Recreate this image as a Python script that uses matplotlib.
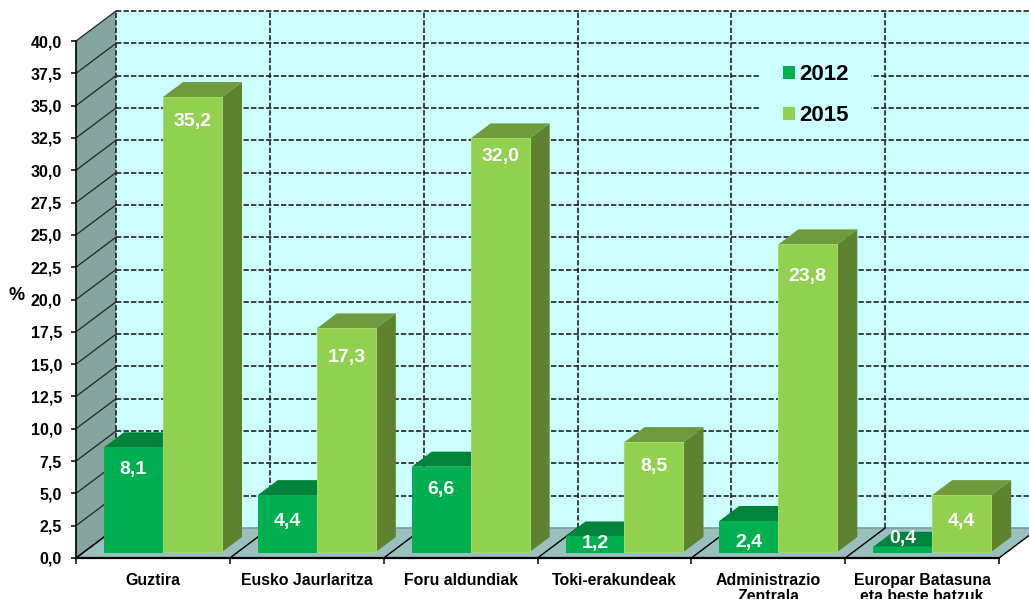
import matplotlib
matplotlib.use('Agg')
import matplotlib.pyplot as plt
from matplotlib.patches import Patch, Polygon, Rectangle

plt.rcParams['font.family'] = ['Liberation Sans', 'DejaVu Sans']
plt.rcParams['font.weight'] = 'bold'
plt.rcParams['axes.labelweight'] = 'bold'

categories = ['Guztira', 'Eusko Jaurlaritza', 'Foru aldundiak', 'Toki-erakundeak',
              'Administrazio\nZentrala', 'Europar Batasuna\neta beste batzuk']
values_2012 = [8.1, 4.4, 6.6, 1.2, 2.4, 0.4]
values_2015 = [35.2, 17.3, 32.0, 8.5, 23.8, 4.4]
labels_2012 = ['8,1', '4,4', '6,6', '1,2', '2,4', '0,4']
labels_2015 = ['35,2', '17,3', '32,0', '8,5', '23,8', '4,4']
y_ticks = [i * 2.5 for i in range(17)]
y_tick_labels = ['%.1f' % t for t in y_ticks]
y_tick_labels = [t.replace('.', ',') for t in y_tick_labels]

# how far below the bar top the value label sits, pixels
offset_2012 = [22, 26, 23, 7, 22, -8]
offset_2015 = [24, 29, 18, 24, 32, 26]

WIDTH, HEIGHT = 1029, 599
LEFT, RIGHT, TOP, BOTTOM = 76, 999, 41, 558

DARK_2012, TOP_2012, FRONT_2012 = '#006F35', '#00833B', '#00B050'
DARK_2015, TOP_2015, FRONT_2015 = '#5E8230', '#6F9B3C', '#92D050'

fig = plt.figure(figsize=(WIDTH / 100, HEIGHT / 100), dpi=100)
ax = fig.add_axes([LEFT / WIDTH, 1 - BOTTOM / HEIGHT, (RIGHT - LEFT) / WIDTH, (BOTTOM - TOP) / HEIGHT])
ax.set_xlim(0, 6)
ax.set_ylim(0, 40)
ax.patch.set_visible(False)

px_x = 6 / (RIGHT - LEFT)
px_y = 40 / (BOTTOM - TOP)
depth_x = 40 * px_x
depth_y = 30 * px_y


def at_depth(_x, _y, _d):
    """Moves a front plane point back into the chart, _d = 1 is the back wall"""

    return _x + _d * depth_x, _y + _d * depth_y


def add_poly(_points, _color, _z, _edge='none'):
    """Adds an unclipped filled polygon"""

    ax.add_patch(Polygon(_points, closed=True, facecolor=_color, edgecolor=_edge,
                         linewidth=0.7, zorder=_z, clip_on=False))


def draw_bar(_x, _value, _width, _front, _top, _side, _edge):
    """Draws one box, front face on the axes with the top and side behind it"""

    _d0, _d1 = 0.2, 0.7
    x0, y0 = at_depth(_x, 0, _d0)
    x1, y1 = x0 + _width, y0 + _value
    dx, dy = (_d1 - _d0) * depth_x, (_d1 - _d0) * depth_y

    add_poly([(x1, y0), (x1 + dx, y0 + dy), (x1 + dx, y1 + dy), (x1, y1)], _side, 5)
    add_poly([(x0, y1), (x1, y1), (x1 + dx, y1 + dy), (x0 + dx, y1 + dy)], _top, 5)
    ax.bar(x0, _value, _width, bottom=y0, align='edge', color=_front, edgecolor=_edge,
           linewidth=0.7, zorder=6, clip_on=False)

    return x0 + _width / 2, y1


# walls and floor
add_poly([at_depth(0, 0, 1), at_depth(0, 40, 1), at_depth(6, 40, 1), at_depth(6, 0, 1)], '#CCFFFF', 1)
add_poly([(0, 0), (0, 40), at_depth(0, 40, 1), at_depth(0, 0, 1)], '#86A4A0', 1)
add_poly([(0, 0), (6, 0), at_depth(6, 0, 1), at_depth(0, 0, 1)], '#99BFBF', 1)

# floor back edge
x_back, y_back = zip(at_depth(0, 0, 1), at_depth(6, 0, 1))
ax.plot(x_back, y_back, color='#7F9B9B', lw=1.2, zorder=2, clip_on=False)

for tick in y_ticks:
    x_side, y_side = zip((0, tick), at_depth(0, tick, 1))
    x_wall, y_wall = zip(at_depth(0, tick, 1), at_depth(6, tick, 1))
    ax.plot(x_side, y_side, color='#1A2A28', lw=0.9, zorder=2, clip_on=False)
    if tick > 0:
        ax.plot(x_wall, y_wall, color='#222222', lw=1.2, dashes=(3.2, 1.3), zorder=2, clip_on=False)

for cat in range(7):
    x_floor, y_floor = zip((cat, 0), at_depth(cat, 0, 1))
    x_wall, y_wall = zip(at_depth(cat, 0, 1), at_depth(cat, 40, 1))
    ax.plot(x_floor, y_floor, color='black', lw=1.0, zorder=2, clip_on=False)
    ax.plot(x_wall, y_wall, color='#222222', lw=1.2, dashes=(3.2, 1.3), zorder=2, clip_on=False)

# legend background hides the grid
ax.add_patch(Rectangle((760 / WIDTH, 1 - 132 / HEIGHT), 111 / WIDTH, 76 / HEIGHT,
                       transform=fig.transFigure, facecolor='#CCFFFF', edgecolor='none',
                       zorder=3, clip_on=False))

bar_width = 59 * px_x
group_start = 20 * px_x
for i in range(len(categories)):
    x_a, top_a = draw_bar(i + group_start, values_2012[i], bar_width,
                          FRONT_2012, TOP_2012, DARK_2012, FRONT_2012)
    x_b, top_b = draw_bar(i + group_start + bar_width, values_2015[i], bar_width,
                          FRONT_2015, TOP_2015, DARK_2015, '#A2DB66')
    ax.annotate(labels_2012[i], (x_a, top_a), xytext=(0, -offset_2012[i]), textcoords='offset pixels',
                color='white', fontsize=14, ha='center', va='center', zorder=8, annotation_clip=False)
    ax.annotate(labels_2015[i], (x_b, top_b), xytext=(0, -offset_2015[i]), textcoords='offset pixels',
                color='white', fontsize=14, ha='center', va='center', zorder=8, annotation_clip=False)

ax.set_yticks(y_ticks, y_tick_labels, fontsize=11.5)
ax.set_xticks(range(7), [''] * 7)
ax.set_xticks([i + 0.5 for i in range(6)], categories, minor=True, fontsize=11.4, linespacing=1.1)
ax.tick_params(axis='x', which='major', length=4, width=1.1)
ax.tick_params(axis='x', which='minor', length=0, pad=10.5)
ax.tick_params(axis='y', length=3.6, width=1.1, pad=6.5)

ax.spines['top'].set_visible(False)
ax.spines['right'].set_visible(False)
ax.spines['left'].set_linewidth(1.2)
ax.spines['bottom'].set_linewidth(1.6)
ax.spines['left'].set_zorder(7)
ax.spines['bottom'].set_zorder(7)

ax.set_ylabel('%', rotation=0, fontsize=13, va='center', ha='center')
ax.yaxis.set_label_coords((17 - LEFT) / (RIGHT - LEFT), (BOTTOM - 296) / (BOTTOM - TOP))

handles = [Patch(facecolor=FRONT_2012, label='2012'), Patch(facecolor=FRONT_2015, label='2015')]
legend = ax.legend(handles=handles, loc='center', bbox_to_anchor=(816 / WIDTH, 1 - 95 / HEIGHT),
                   bbox_transform=fig.transFigure, frameon=False, fontsize=16, handlelength=0.54,
                   handleheight=0.54, handletextpad=0.2, labelspacing=0.9, borderaxespad=0, borderpad=0)
legend.set_zorder(4)

fig.savefig('out.png', dpi=100)
